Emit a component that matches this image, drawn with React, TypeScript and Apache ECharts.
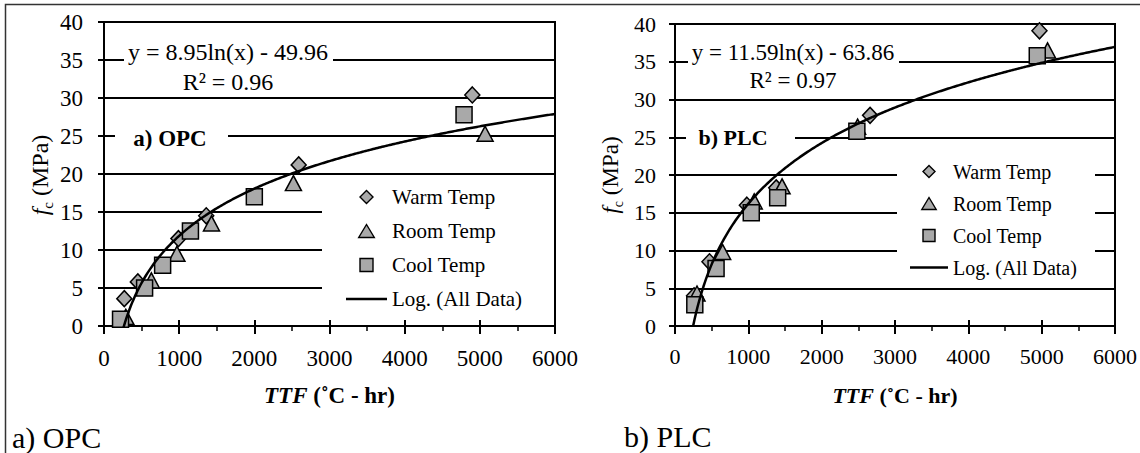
import { useEffect, useRef } from "react";
import * as echarts from "echarts";

// ---- data ----------------------------------------------------------------
// TTF (°C-hr) vs compressive strength fc (MPa)
const opcWarm: [number, number][] = [[270, 3.6], [450, 5.8], [990, 11.5], [1360, 14.5], [2590, 21.2], [4900, 30.4]];
const opcRoom: [number, number][] = [[290, 1.2], [630, 6.0], [970, 9.5], [1430, 13.5], [2520, 18.8], [5070, 25.3]];
const opcCool: [number, number][] = [[220, 0.9], [540, 5.0], [780, 8.0], [1150, 12.5], [2000, 17.0], [4790, 27.8]];

const plcWarm: [number, number][] = [[260, 4.0], [470, 8.5], [980, 16.0], [1380, 18.3], [2660, 27.9], [4970, 39.1]];
const plcRoom: [number, number][] = [[300, 4.3], [650, 9.8], [1080, 16.5], [1460, 18.5], [2490, 26.4], [5080, 36.5]];
const plcCool: [number, number][] = [[270, 2.8], [560, 7.6], [1040, 15.0], [1400, 17.0], [2480, 25.8], [4940, 35.8]];

// logarithmic trend lines: y = slope * ln(x) + intercept
const opcFit = { slope: 8.95, intercept: -49.96, r2: 0.96 };
const plcFit = { slope: 11.59, intercept: -63.86, r2: 0.97 };

const seriesNames = ["Warm Temp", "Room Temp", "Cool Temp", "Log. (All Data)"];
const panelTags = ["a) OPC", "b) PLC"];

const X_MIN = 0;
const X_MAX = 6000;
const X_STEP = 1000;
const Y_MIN = 0;
const Y_MAX = 40;
const Y_STEP = 5;

// ---- styling / layout ----------------------------------------------------
const SERIF = "Liberation Serif";
const MARK_FILL = "#a9a9a9";
const DIAMOND_ICON = "path://M6,0L12,6L6,12L0,6Z";
const TRIANGLE_ICON = "path://M6,0L12,10L0,10Z";
const SQUARE_ICON = "path://M0,0H12V12H0Z";
const LINE_ICON = "path://M0,0H40V2.6H0Z";

type Fit = { slope: number; intercept: number; r2: number };

function trendPoints(fit: Fit, sets: [number, number][][]): [number, number][] {
  const xs = sets.flat().map((p) => p[0]);
  const zeroCross = Math.exp(-fit.intercept / fit.slope);
  const start = Math.min(Math.min(...xs), Math.floor(zeroCross));
  const pts: [number, number][] = [];
  for (let x = start; x <= X_MAX; x += 20) {
    pts.push([x, fit.slope * Math.log(x) + fit.intercept]);
  }
  return pts;
}

function fitLabel(fit: Fit) {
  const sign = fit.intercept < 0 ? "-" : "+";
  return `y = ${fit.slope.toFixed(2)}ln(x) ${sign} ${Math.abs(fit.intercept).toFixed(2)}\nR² = ${fit.r2.toFixed(2)}`;
}

const panels = [
  {
    fit: opcFit,
    sets: [opcWarm, opcRoom, opcCool],
    grid: { left: 104, top: 22, width: 451, height: 304 },
    tickFont: 23,
    tickMargin: 21,
    titleFont: 23,
    titleGap: 58,
    eqFont: 24,
    eqLine: 30,
    eqPos: [228, 37],
    eqBox: [124, 38, 209, 58],
    tagFont: 23,
    tagPos: [170, 138],
    tagBox: [115, 124, 113, 26],
    legendBox: [322, 180, 232, 139],
    legend: { left: 346, top: 186, itemWidth: 41, itemHeight: 13, itemGap: 12, font: 21, line: 22 },
    yNameFont: 24,
    yNamePos: [40, 175],
    caption: [12, 437],
  },
  {
    fit: plcFit,
    sets: [plcWarm, plcRoom, plcCool],
    grid: { left: 675, top: 24, width: 442, height: 302 },
    tickFont: 22,
    tickMargin: 19,
    titleFont: 22,
    titleGap: 58,
    eqFont: 23,
    eqLine: 28,
    eqPos: [793, 38],
    eqBox: [688, 38, 211, 56],
    tagFont: 22,
    tagPos: [733, 137],
    tagBox: [686, 124, 109, 26],
    legendBox: [897, 150, 198, 133],
    legend: { left: 910, top: 161, itemWidth: 38, itemHeight: 12, itemGap: 11, font: 20, line: 21 },
    yNameFont: 23,
    yNamePos: [610, 175],
    caption: [624, 436],
  },
];

function buildOption() {
  const grids: any[] = [];
  const xAxes: any[] = [];
  const yAxes: any[] = [];
  const series: any[] = [];
  const legends: any[] = [];
  const graphics: any[] = [];

  panels.forEach((p, i) => {
    grids.push({ ...p.grid, show: true, borderColor: "#000", borderWidth: 2, backgroundColor: "transparent" });

    // main x axis: labels, outward major ticks and minor ticks
    xAxes.push({
      gridIndex: i,
      type: "value",
      min: X_MIN,
      max: X_MAX,
      interval: X_STEP,
      position: "bottom",
      axisLine: { show: true, onZero: false, lineStyle: { color: "#000", width: 2 } },
      axisTick: { show: true, inside: false, length: 8, lineStyle: { color: "#000", width: 2 } },
      minorTick: { show: true, splitNumber: 2, length: 5, lineStyle: { color: "#000", width: 1.5 } },
      axisLabel: {
        fontFamily: SERIF,
        fontSize: p.tickFont,
        color: "#000",
        margin: p.tickMargin,
        formatter: (v: number) => String(v),
      },
      splitLine: { show: false },
      name: "{i|TTF} {b|(˚C - hr)}",
      nameLocation: "middle",
      nameGap: p.titleGap,
      nameTextStyle: {
        fontFamily: SERIF,
        fontSize: p.titleFont,
        fontWeight: "bold",
        color: "#000",
        rich: {
          i: { fontFamily: SERIF, fontSize: p.titleFont, fontWeight: "bold", fontStyle: "italic", color: "#000" },
          b: { fontFamily: SERIF, fontSize: p.titleFont, fontWeight: "bold", color: "#000" },
        },
      },
    });
    // companion axis: inward half of the major ticks
    xAxes.push({
      gridIndex: i,
      type: "value",
      min: X_MIN,
      max: X_MAX,
      interval: X_STEP,
      position: "bottom",
      axisLine: { show: false, onZero: false },
      axisTick: { show: true, inside: true, length: 6, lineStyle: { color: "#000", width: 2 } },
      axisLabel: { show: false },
      splitLine: { show: false },
    });

    yAxes.push({
      gridIndex: i,
      type: "value",
      min: Y_MIN,
      max: Y_MAX,
      interval: Y_STEP,
      axisLine: { show: true, lineStyle: { color: "#000", width: 2 } },
      axisTick: { show: true, inside: false, length: 6, lineStyle: { color: "#000", width: 2 } },
      axisLabel: {
        fontFamily: SERIF,
        fontSize: p.tickFont,
        color: "#000",
        margin: p.tickMargin,
        formatter: (v: number) => String(v),
      },
      splitLine: { show: true, lineStyle: { color: "#000", width: 2 } },
    });

    const symbols: any[] = [
      { symbol: "diamond", size: [15, 16] },
      { symbol: "triangle", size: [16, 15] },
      { symbol: "rect", size: [16, 16] },
    ];
    p.sets.forEach((data, k) => {
      series.push({
        type: "scatter",
        name: seriesNames[k],
        xAxisIndex: i * 2,
        yAxisIndex: i,
        data,
        symbol: symbols[k].symbol,
        symbolSize: symbols[k].size,
        itemStyle: { color: MARK_FILL, borderColor: "#000", borderWidth: 1.5, opacity: 1 },
        z: 2 + k * 0.1,
        silent: true,
      });
    });
    series.push({
      type: "line",
      name: seriesNames[3],
      xAxisIndex: i * 2,
      yAxisIndex: i,
      data: trendPoints(p.fit, p.sets),
      symbol: "none",
      showSymbol: false,
      clip: true,
      lineStyle: { color: "#000", width: 2.5 },
      itemStyle: { color: "#000" },
      z: 3,
      silent: true,
    });

    const L = p.legend;
    const iconStyle = { color: MARK_FILL, borderColor: "#000", borderWidth: 1.4 };
    legends.push({
      orient: "vertical",
      left: L.left,
      top: L.top,
      padding: 0,
      itemWidth: L.itemWidth,
      itemHeight: L.itemHeight,
      itemGap: L.itemGap,
      selectedMode: false,
      textStyle: { fontFamily: SERIF, fontSize: L.font, color: "#000", lineHeight: L.line },
      data: [
        { name: seriesNames[0], icon: DIAMOND_ICON, itemStyle: iconStyle },
        { name: seriesNames[1], icon: TRIANGLE_ICON, itemStyle: iconStyle },
        { name: seriesNames[2], icon: SQUARE_ICON, itemStyle: iconStyle },
        { name: seriesNames[3], icon: LINE_ICON, itemStyle: { color: "#000", borderWidth: 0 } },
      ],
    });

    // white boxes behind the equation, panel tag and legend (they break the grid lines)
    [p.eqBox, p.tagBox, p.legendBox].forEach((b) => {
      graphics.push({
        type: "rect",
        z: 1,
        silent: true,
        shape: { x: b[0], y: b[1], width: b[2], height: b[3] },
        style: { fill: "#fff", stroke: null },
      });
    });

    graphics.push({
      type: "text",
      z: 5,
      x: p.eqPos[0],
      y: p.eqPos[1],
      style: {
        text: fitLabel(p.fit),
        fontFamily: SERIF,
        fontSize: p.eqFont,
        lineHeight: p.eqLine,
        fill: "#000",
        align: "center",
        verticalAlign: "top",
      },
    });
    graphics.push({
      type: "text",
      z: 5,
      x: p.tagPos[0],
      y: p.tagPos[1],
      style: {
        text: panelTags[i],
        fontFamily: SERIF,
        fontSize: p.tagFont,
        fontWeight: "bold",
        fill: "#000",
        align: "center",
        verticalAlign: "middle",
      },
    });

    // rotated y-axis title: f with subscript c
    graphics.push({
      type: "text",
      z: 5,
      x: p.yNamePos[0],
      y: p.yNamePos[1],
      rotation: Math.PI / 2,
      style: {
        text: "{f|f}{c|c}{t| (MPa)}",
        fontFamily: SERIF,
        fontSize: p.yNameFont,
        fill: "#000",
        align: "center",
        verticalAlign: "middle",
        rich: {
          f: { fontFamily: SERIF, fontSize: p.yNameFont, fontStyle: "italic", fill: "#000", lineHeight: 30, verticalAlign: "middle" },
          c: { fontFamily: SERIF, fontSize: Math.round(p.yNameFont * 0.62), fill: "#000", lineHeight: 16, verticalAlign: "bottom" },
          t: { fontFamily: SERIF, fontSize: p.yNameFont, fill: "#000", lineHeight: 30, verticalAlign: "middle" },
        },
      },
    });

    graphics.push({
      type: "text",
      z: 5,
      x: p.caption[0],
      y: p.caption[1],
      style: {
        text: panelTags[i],
        fontFamily: SERIF,
        fontSize: 30,
        fill: "#000",
        align: "left",
        verticalAlign: "middle",
      },
    });
  });

  // page frame
  graphics.push({
    type: "polyline",
    z: 5,
    silent: true,
    shape: { points: [[5.5, 453], [5.5, 4.5], [1140, 4.5]] },
    style: { stroke: "#333", lineWidth: 1.5, fill: null },
  });

  return {
    animation: false,
    backgroundColor: "#fff",
    textStyle: { fontFamily: SERIF },
    grid: grids,
    xAxis: xAxes,
    yAxis: yAxes,
    legend: legends,
    series,
    graphic: { elements: graphics },
  };
}

export default function App() {
  const ref = useRef<HTMLDivElement>(null);

  useEffect(() => {
    if (!ref.current) return;
    const chart = echarts.init(ref.current, undefined, { renderer: "svg" });
    chart.setOption(buildOption() as any);
    return () => chart.dispose();
  }, []);

  return (
    <div
      ref={ref}
      style={{ position: "fixed", left: 0, top: 0, width: 1140, height: 453, background: "#fff" }}
    />
  );
}
